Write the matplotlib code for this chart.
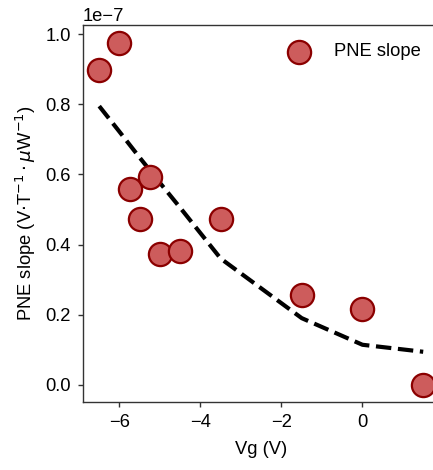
import matplotlib
matplotlib.use("Agg")
import matplotlib.pyplot as plt

plt.rcParams['font.family'] = ['Liberation Sans', 'DejaVu Sans']
plt.rcParams['mathtext.fontset'] = 'dejavusans'

vg = [-6.5, -6.0, -5.75, -5.5, -5.25, -5.0, -4.5, -3.5, -1.5, 0.0, 1.5]
slope = [0.898, 0.976, 0.559, 0.472, 0.594, 0.373, 0.381, 0.474, 0.257, 0.215, 0.0]
fit = [0.795, 0.722, 0.685, 0.648, 0.612, 0.576, 0.505, 0.360, 0.190, 0.114, 0.094]
scale = 1e-7

fs = 13.2
fig = plt.figure(figsize=(4.33, 4.70), dpi=100)
ax = fig.add_axes([0.1917, 0.1453, 1.0148 - 0.1917, 0.9468 - 0.1453])

ax.plot(vg, [v * scale for v in fit], ls='--', color='black', lw=3.0, zorder=2)
ax.scatter(vg, [v * scale for v in slope], s=280, facecolor='#CD5C5C',
           edgecolor='#8B0000', linewidths=1.6, zorder=3, label='PNE slope',
           clip_on=False)

ax.set_xlim(-6.9, 1.9)
ax.set_ylim(-0.0485e-7, 1.0265e-7)
ax.set_xticks([-6, -4, -2, 0])
ax.set_yticks([0, 0.2e-7, 0.4e-7, 0.6e-7, 0.8e-7, 1.0e-7])
ax.tick_params(labelsize=fs, length=3.8, width=1, color='#333333', pad=5)
ax.yaxis.get_offset_text().set_fontsize(fs)
for sp in ax.spines.values():
    sp.set_linewidth(1.0)
    sp.set_color('#333333')
ax.spines['right'].set_visible(False)

ax.set_xlabel('Vg (V)', fontsize=fs, labelpad=7)
ax.set_ylabel(r'PNE slope (V$\cdot$T$^{-1}\cdot\mu$W$^{-1}$)', fontsize=fs, labelpad=5)

ax.legend(loc='upper right', frameon=False, fontsize=fs, bbox_to_anchor=(0.99, 0.99),
          handletextpad=0.9, borderaxespad=0.4)

fig.savefig('out.png', dpi=100)
